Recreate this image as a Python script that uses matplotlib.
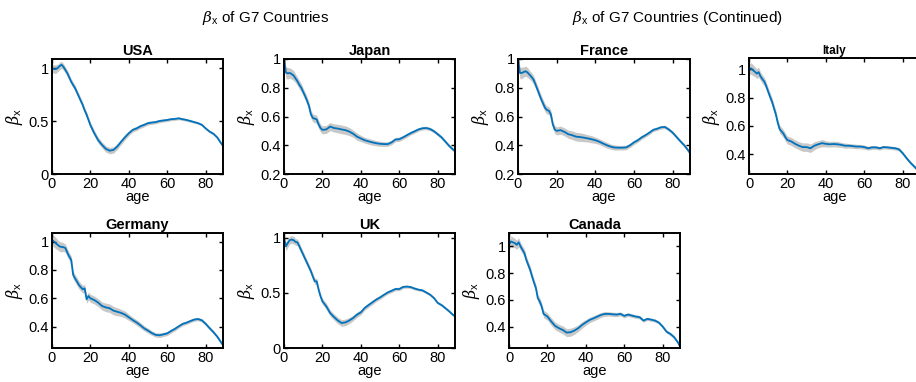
import matplotlib
matplotlib.use('Agg')

import numpy as np
import matplotlib.pyplot as plt
from matplotlib.ticker import FuncFormatter

plt.rcParams['font.family'] = ['Liberation Sans', 'DejaVu Sans']
plt.rcParams['mathtext.fontset'] = 'custom'
plt.rcParams['mathtext.it'] = 'DejaVu Serif:italic'
plt.rcParams['mathtext.rm'] = 'Liberation Sans'

# common age grid
ages = list(range(0, 21)) + list(range(22, 89, 2)) + [89]

usa = [1.00, 0.99, 0.99, 1.00, 1.02, 1.03, 1.01, 0.98, 0.95, 0.91, 0.87, 0.84, 0.81, 0.77, 0.73, 0.69, 0.65, 0.60, 0.56, 0.51, 0.46,
       0.385, 0.32, 0.275, 0.237, 0.22, 0.227, 0.26, 0.305, 0.347, 0.385, 0.416, 0.43, 0.45, 0.464, 0.48, 0.485, 0.49, 0.50, 0.505,
       0.51, 0.517, 0.52, 0.525, 0.517, 0.51, 0.50, 0.49, 0.48, 0.464, 0.43, 0.40, 0.38, 0.345, 0.29, 0.265]
japan = [1.0, 0.905, 0.90, 0.903, 0.895, 0.885, 0.865, 0.845, 0.82, 0.80, 0.77, 0.742, 0.71, 0.673, 0.615, 0.59, 0.585, 0.58, 0.545, 0.52, 0.507,
         0.51, 0.53, 0.52, 0.516, 0.51, 0.505, 0.495, 0.48, 0.46, 0.447, 0.435, 0.427, 0.42, 0.414, 0.41, 0.408, 0.408, 0.42, 0.44,
         0.442, 0.455, 0.47, 0.485, 0.497, 0.51, 0.518, 0.52, 0.513, 0.498, 0.477, 0.455, 0.425, 0.395, 0.37, 0.36]
france = [1.0, 0.903, 0.903, 0.91, 0.915, 0.905, 0.89, 0.875, 0.857, 0.825, 0.79, 0.755, 0.72, 0.69, 0.66, 0.645, 0.64, 0.615, 0.545, 0.51, 0.50,
          0.505, 0.493, 0.477, 0.47, 0.46, 0.457, 0.453, 0.448, 0.442, 0.435, 0.425, 0.412, 0.40, 0.39, 0.384, 0.383, 0.383, 0.385, 0.40,
          0.42, 0.435, 0.455, 0.47, 0.488, 0.507, 0.515, 0.525, 0.527, 0.51, 0.488, 0.458, 0.428, 0.40, 0.365, 0.345]
italy = [1.0, 1.007, 0.995, 0.984, 0.97, 0.98, 0.95, 0.93, 0.913, 0.88, 0.842, 0.805, 0.77, 0.725, 0.68, 0.62, 0.576, 0.56, 0.544, 0.518, 0.50,
         0.49, 0.473, 0.46, 0.45, 0.45, 0.442, 0.46, 0.47, 0.478, 0.473, 0.47, 0.472, 0.47, 0.466, 0.46, 0.46, 0.457, 0.454, 0.454,
         0.45, 0.442, 0.448, 0.448, 0.442, 0.45, 0.448, 0.445, 0.442, 0.435, 0.407, 0.372, 0.34, 0.313, 0.285, 0.27]
germany = [1.012, 1.0, 0.988, 0.976, 0.965, 0.962, 0.96, 0.953, 0.92, 0.894, 0.87, 0.765, 0.74, 0.718, 0.694, 0.678, 0.664, 0.67, 0.593, 0.616, 0.60,
           0.588, 0.57, 0.546, 0.536, 0.53, 0.513, 0.505, 0.497, 0.485, 0.466, 0.447, 0.43, 0.41, 0.388, 0.372, 0.355, 0.342, 0.34, 0.346,
           0.353, 0.37, 0.385, 0.403, 0.42, 0.428, 0.44, 0.45, 0.454, 0.445, 0.42, 0.39, 0.362, 0.33, 0.29, 0.27]
uk = [1.0, 0.924, 0.955, 0.98, 0.985, 0.98, 0.964, 0.96, 0.924, 0.885, 0.848, 0.81, 0.773, 0.735, 0.697, 0.65, 0.606, 0.606, 0.53, 0.47, 0.424,
      0.379, 0.318, 0.282, 0.25, 0.227, 0.233, 0.25, 0.273, 0.303, 0.324, 0.364, 0.39, 0.415, 0.44, 0.46, 0.483, 0.505, 0.52, 0.536,
      0.536, 0.555, 0.558, 0.553, 0.54, 0.53, 0.524, 0.505, 0.485, 0.455, 0.41, 0.39, 0.362, 0.333, 0.30, 0.29]
canada = [1.012, 1.037, 1.03, 1.025, 1.012, 1.03, 1.0, 0.975, 0.95, 0.90, 0.862, 0.825, 0.775, 0.73, 0.688, 0.612, 0.588, 0.55, 0.495, 0.485, 0.475,
          0.438, 0.405, 0.388, 0.375, 0.355, 0.358, 0.37, 0.388, 0.412, 0.432, 0.45, 0.462, 0.475, 0.488, 0.495, 0.495, 0.492, 0.49, 0.495,
          0.48, 0.49, 0.482, 0.475, 0.47, 0.445, 0.458, 0.452, 0.445, 0.43, 0.40, 0.362, 0.345, 0.32, 0.28, 0.25]

# half width of the shaded band
band_hw = [0.04, 0.04, 0.04, 0.035, 0.035, 0.035, 0.03, 0.03, 0.03] + [0.028] * 12 + \
          [0.028, 0.028, 0.028, 0.03, 0.03, 0.03, 0.028, 0.025, 0.025, 0.022,
           0.02, 0.02, 0.02, 0.018, 0.018, 0.016, 0.016, 0.016, 0.015, 0.015] + \
          [0.014, 0.014, 0.013, 0.013] + [0.012] * 10 + [0.012]

countries = ['USA', 'Japan', 'France', 'Italy', 'Germany', 'UK', 'Canada']
series = [usa, japan, france, italy, germany, uk, canada]
ylims = [(0, 1.085), (0.2, 1.0), (0.2, 1.0), (0.26, 1.08), (0.25, 1.06), (0, 1.045), (0.24, 1.1)]
yticks = [[0, 0.5, 1], [0.2, 0.4, 0.6, 0.8, 1], [0.2, 0.4, 0.6, 0.8, 1], [0.4, 0.6, 0.8, 1],
          [0.4, 0.6, 0.8, 1], [0, 0.5, 1], [0.4, 0.6, 0.8, 1]]

W, H = 916, 382
# axes boxes in pixels: left, top, right, bottom
boxes = [(52, 59, 223, 174), (284, 59, 455, 174), (518, 59, 690, 174), (749, 58, 920, 174),
         (52, 233, 223, 348), (284, 233, 455, 348), (509, 233, 680, 348)]

fig = plt.figure(figsize=(W / 100, H / 100), dpi=100)
blue = '#0072BD'

for i, name in enumerate(countries):
    l, t, r, b = boxes[i]
    ax = fig.add_axes([l / W, 1 - b / H, (r - l) / W, (b - t) / H])
    y = np.array(series[i])
    hw = np.array(band_hw)
    ax.fill_between(ages, y - hw, y + hw, color='#c8c8c8', lw=0)
    ax.plot(ages, y, color=blue, lw=1.3)
    ax.set_xlim(0, 89)
    ax.set_ylim(*ylims[i])
    ax.set_xticks([0, 20, 40, 60, 80])
    ax.set_yticks(yticks[i])
    ax.yaxis.set_major_formatter(FuncFormatter(lambda v, p: '%g' % v))
    ax.tick_params(direction='in', top=True, right=True, length=3, width=1,
                   labelsize=10.5, pad=2.5)
    for s in ax.spines.values():
        s.set_linewidth(1.4)
    ax.set_title(name, fontsize=8.5 if name == 'Italy' else 10.5, fontweight='bold', pad=3)
    ax.set_xlabel('age', fontsize=10.5, labelpad=-1)
    ax.set_ylabel(r'$\beta_{\rm x}$', fontsize=11.5, labelpad=2)

fig.text(266 / W, 1 - 18 / H, r'$\beta_{\rm x}$ of G7 Countries', ha='center', va='center', fontsize=11)
fig.text(678 / W, 1 - 18 / H, r'$\beta_{\rm x}$ of G7 Countries (Continued)', ha='center', va='center', fontsize=11)

plt.savefig('out.png', dpi=100)
